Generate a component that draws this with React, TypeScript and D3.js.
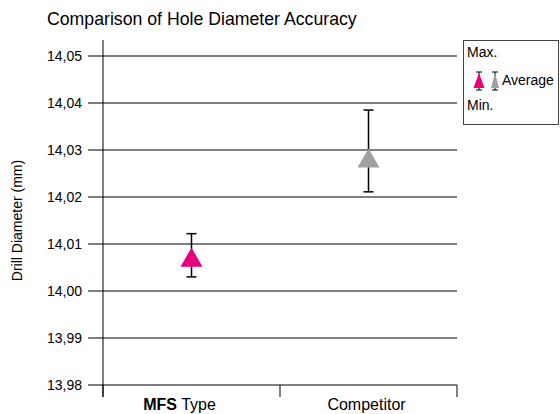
import * as d3 from "d3";

const categories = ["MFS", "Competitor"];
const averages = [14.0072, 14.0283];
const maxima = [14.0122, 14.0385];
const minima = [14.003, 14.0211];
const colors = ["#e6007e", "#a0a0a0"];
const yTicks = [13.98, 13.99, 14.0, 14.01, 14.02, 14.03, 14.04, 14.05];

function triangle(w: number, h: number) {
  const p = d3.path();
  p.moveTo(0, -h / 2);
  p.lineTo(w / 2, h / 2);
  p.lineTo(-w / 2, h / 2);
  p.closePath();
  return p.toString();
}

export default function App() {
  const width = 560;
  const height = 414;
  const margin = { top: 56, right: 103, bottom: 29, left: 103 };
  const font = "'Liberation Sans', Arial, sans-serif";

  const y = d3.scaleLinear().domain([13.98, 14.05]).range([height - margin.bottom, margin.top]);
  const x = d3.scaleBand().domain(categories).range([margin.left, width - margin.right]);
  const fmt = (v: number) => v.toFixed(2).replace(".", ",");
  const x0 = margin.left;
  const x1 = width - margin.right;
  const yb = height - margin.bottom;

  return (
    <svg width={width} height={height} style={{ position: "absolute", left: 0, top: 0 }} fontFamily={font}>
      <rect width={width} height={height} fill="white" />
      <text x={47} y={25} fontSize={17.7} fill="#000">Comparison of Hole Diameter Accuracy</text>
      {yTicks.map((t) => (
        <g key={t}>
          <line x1={x0 - 15} x2={x1} y1={y(t)} y2={y(t)} stroke="#000" strokeWidth={1.2} />
          <text x={82} y={y(t) + 5} textAnchor="end" fontSize={14} fill="#000">{fmt(t)}</text>
        </g>
      ))}
      <line x1={x0} x2={x0} y1={40} y2={yb + 12} stroke="#000" />
      {[x0, (x0 + x1) / 2, x1].map((px) => (
        <line key={px} x1={px} x2={px} y1={yb} y2={yb + 12} stroke="#000" />
      ))}
      <text transform={`translate(22,${(margin.top + yb) / 2}) rotate(-90)`} textAnchor="middle" fontSize={14} fill="#000">Drill Diameter (mm)</text>
      <text x={(x("MFS") ?? 0) + x.bandwidth() / 2 - 12} y={410} textAnchor="middle" fill="#000" fontSize={16}>
        <tspan fontWeight="bold">MFS</tspan>
        <tspan> Type</tspan>
      </text>
      <text x={(x("Competitor") ?? 0) + x.bandwidth() / 2 - 2} y={410} textAnchor="middle" fontSize={16} fill="#000">Competitor</text>
      {categories.map((c, i) => {
        const cx = (x(c) ?? 0) + x.bandwidth() / 2;
        return (
          <g key={c}>
            <line x1={cx} x2={cx} y1={y(maxima[i])} y2={y(minima[i])} stroke="#000" strokeWidth={1.5} />
            <line x1={cx - 5} x2={cx + 5} y1={y(maxima[i])} y2={y(maxima[i])} stroke="#000" strokeWidth={1.5} />
            <line x1={cx - 5} x2={cx + 5} y1={y(minima[i])} y2={y(minima[i])} stroke="#000" strokeWidth={1.5} />
            <path d={triangle(22, 19)} transform={`translate(${cx},${y(averages[i])})`} fill={colors[i]} />
          </g>
        );
      })}
      <g>
        <rect x={463.5} y={40.5} width={95} height={84} fill="white" stroke="#444" />
        <text x={467} y={57} fontSize={14} fill="#000">Max.</text>
        {colors.map((col, i) => {
          const cx = 479 + i * 16;
          return (
            <g key={col}>
              <line x1={cx} x2={cx} y1={72} y2={90} stroke="#000" />
              <line x1={cx - 3} x2={cx + 3} y1={72} y2={72} stroke="#000" />
              <line x1={cx - 3} x2={cx + 3} y1={90} y2={90} stroke="#000" />
              <path d={triangle(i === 0 ? 11 : 8, 15)} transform={`translate(${cx},${80.5})`} fill={col} />
            </g>
          );
        })}
        <text x={502} y={85} fontSize={14} fill="#000">Average</text>
        <text x={467} y={110} fontSize={14} fill="#000">Min.</text>
      </g>
    </svg>
  );
}
